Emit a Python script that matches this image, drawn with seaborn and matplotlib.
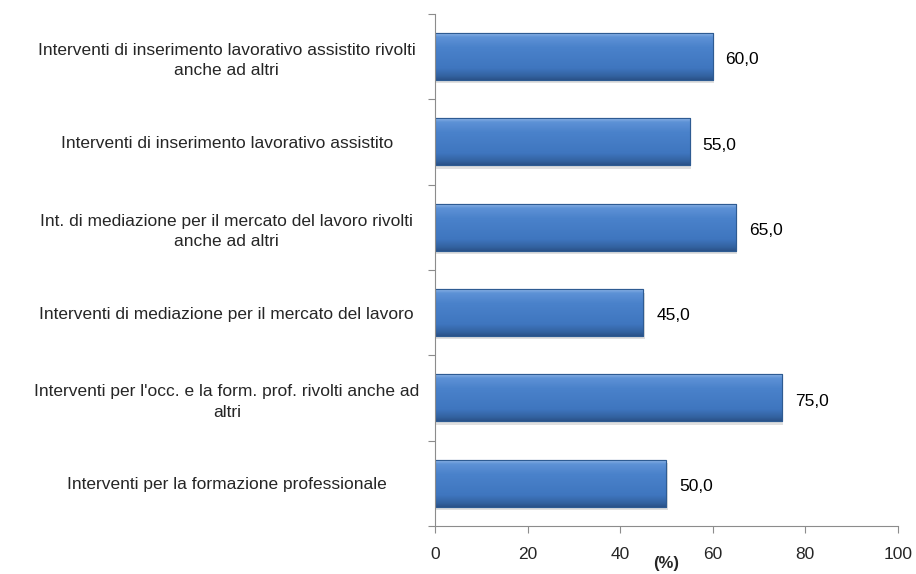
import numpy as np
import pandas as pd
import matplotlib
matplotlib.use("Agg")
import matplotlib.pyplot as plt
from matplotlib.colors import LinearSegmentedColormap
import seaborn as sns

categories = [
    "Interventi di inserimento lavorativo assistito rivolti\nanche ad altri",
    "Interventi di inserimento lavorativo assistito",
    "Int. di mediazione per il mercato del lavoro rivolti\nanche ad altri",
    "Interventi di mediazione per il mercato del lavoro",
    "Interventi per l'occ. e la form. prof. rivolti anche ad\naltri",
    "Interventi per la formazione professionale",
]
values = [60.0, 55.0, 65.0, 45.0, 75.0, 50.0]
x_ticks = [0, 20, 40, 60, 80, 100]

sns.set_theme(style="white")
plt.rcParams["font.family"] = ["Liberation Sans", "DejaVu Sans"]

df = pd.DataFrame({"categoria": categories, "valore": values})

fig = plt.figure(figsize=(9.16, 5.74), dpi=100)
ax = fig.add_axes([0.475, 0.0836, 0.505, 0.8924])

sns.barplot(data=df, x="valore", y="categoria", orient="h", color="#4178c0",
            width=0.55, edgecolor="#2e5b92", linewidth=0.8, ax=ax, saturation=1)

# soft shadow and vertical bevel-like gradient on each bar
cmap = LinearSegmentedColormap.from_list(
    "bevel", [(0.0, "#8db4e6"), (0.08, "#5e92d6"), (0.3, "#4a82cb"),
              (0.75, "#3f76bf"), (0.92, "#33629f"), (1.0, "#2a5288")])
grad = np.linspace(0, 1, 128).reshape(-1, 1)
for p in list(ax.patches):
    x0, y0 = p.get_x(), p.get_y()
    w, h = p.get_width(), p.get_height()
    shadow = plt.Rectangle((x0 + 0.3, y0 + 0.04), w, h, facecolor="#000000",
                           alpha=0.12, edgecolor="none",
                           zorder=p.get_zorder() - 0.1)
    ax.add_patch(shadow)
    im = ax.imshow(grad, cmap=cmap, aspect="auto", origin="upper",
                   extent=[x0, x0 + w, y0 + h, y0], zorder=p.get_zorder() + 0.1)
    im.set_clip_path(p)
    edge = plt.Rectangle((x0, y0), w, h, fill=False, edgecolor="#2e5b92",
                         linewidth=0.8, zorder=p.get_zorder() + 0.2)
    ax.add_patch(edge)

for i, v in enumerate(values):
    ax.text(v + 2.8, i + 0.04, f"{v:.1f}".replace(".", ","), va="center",
            ha="left", fontsize=12.5, color="#000000")

ax.set_xlim(0, 100)
ax.set_ylim(len(categories) - 0.5, -0.5)
ax.set_xticks(x_ticks)
ax.set_xticklabels([str(t) for t in x_ticks], fontsize=12.5)
ax.set_yticks(np.arange(len(categories) + 1) - 0.5, minor=False)
ax.set_yticklabels([])
ax.set_yticks(np.arange(len(categories)), minor=True)
ax.set_yticklabels(categories, minor=True, fontsize=12.5, ha="center",
                   multialignment="center", linespacing=1.45)
ax.tick_params(axis="y", which="minor", length=0, pad=150)
ax.tick_params(axis="y", which="major", length=5, width=0.8, color="#8c8c8c",
               direction="out", left=True)
ax.tick_params(axis="x", length=5, width=0.8, color="#8c8c8c",
               direction="out", bottom=True, pad=10)

for s in ["top", "right"]:
    ax.spines[s].set_visible(False)
for s in ["left", "bottom"]:
    ax.spines[s].set_color("#8c8c8c")
    ax.spines[s].set_linewidth(0.8)

ax.set_ylabel("")
ax.set_xlabel("(%)", fontsize=12, fontweight="bold", labelpad=-4)

fig.savefig("out.png", dpi=100, facecolor="white")
